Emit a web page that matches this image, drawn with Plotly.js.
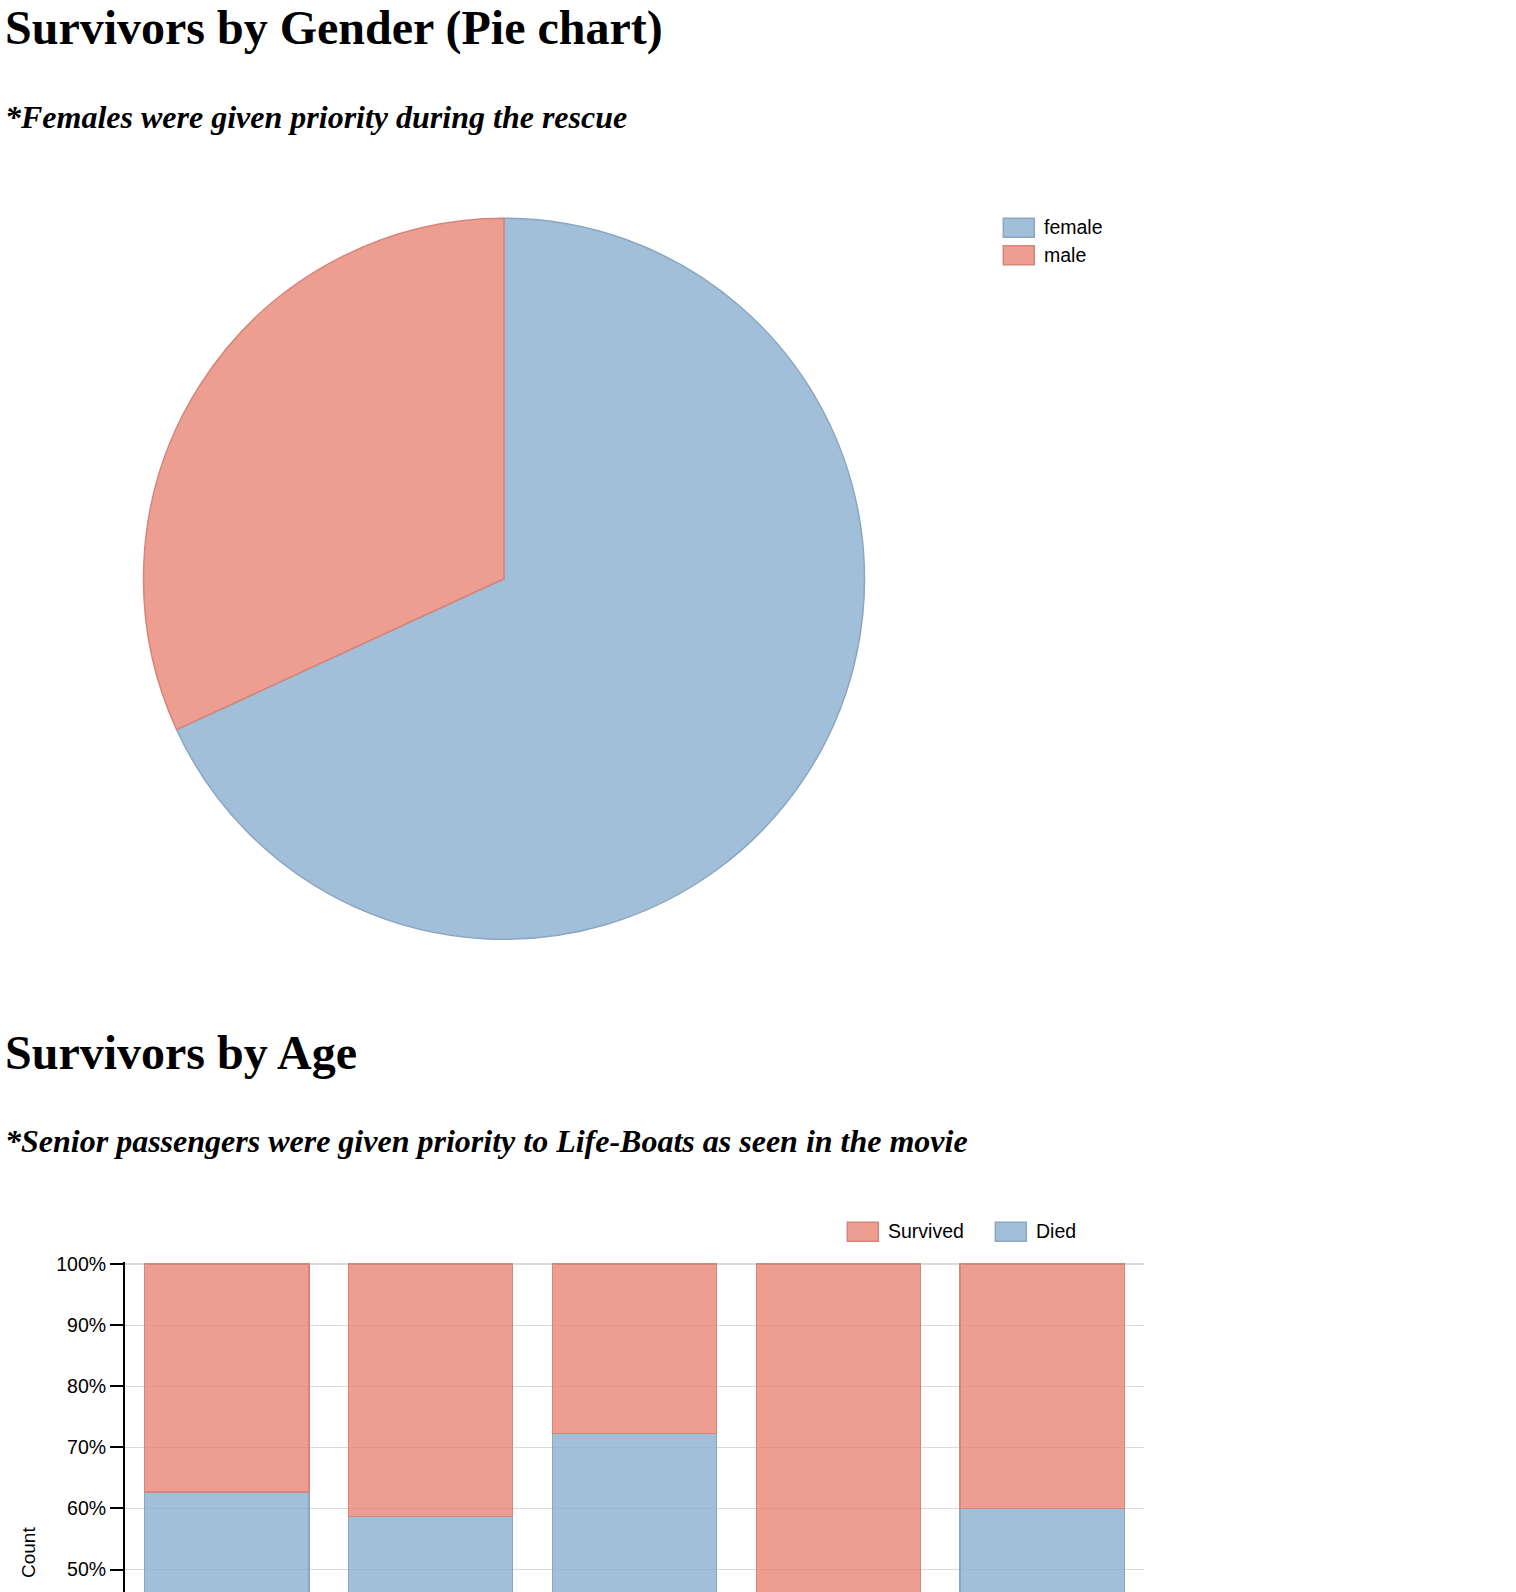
<!DOCTYPE html>
<html>
<head>
<meta charset="utf-8">
<script src="https://cdn.plot.ly/plotly-3.0.1.min.js"></script>
<style>
  html, body { margin: 0; padding: 0; background: #fff; overflow: hidden; }
  #chart { width: 1516px; height: 1592px; }
</style>
</head>
<body>
<div id="chart"></div>
<script>
// ---- data ----
const genderLabels = ['female', 'male'];
const genderSurvivors = [233, 109];

const ageGroups = ['Children', 'Teenagers', 'Adults', 'Seniors', 'Unknown'];
const survivedPct = [37.3, 41.3, 27.8, 100, 40.0];
const diedPct = [62.7, 58.7, 72.2, 0, 60.0];
const barSeries = ['Survived', 'Died'];

const headings = {
  title1: 'Survivors by Gender (Pie chart)',
  sub1: '*Females were given priority during the rescue',
  title2: 'Survivors by Age',
  sub2: '*Senior passengers were given priority to Life-Boats as seen in the movie'
};
const yAxisTitle = 'Count';

// ---- style ----
const W = 1516, H = 1592;
const BLUE = 'rgba(138,175,206,0.8)', BLUE_LINE = 'rgb(139,166,193)';
const RED = 'rgba(234,133,118,0.8)', RED_LINE = 'rgb(214,133,122)';
const px = x => x / W;
const py = y => 1 - y / H;
const serif = 'Liberation Serif, Times New Roman, serif';
const sans = 'Liberation Sans, Arial, Helvetica, sans-serif';

const annotations = [];
const shapes = [];

function heading(text, top, size, italic) {
  annotations.push({
    text: text, xref: 'paper', yref: 'paper', x: px(3), y: py(top),
    xanchor: 'left', yanchor: 'top', showarrow: false,
    font: { family: serif, size: size, weight: 'bold', style: italic ? 'italic' : 'normal', color: '#000' }
  });
}
heading(headings.title1, -1.5, 48, false);
heading(headings.sub1, 97, 32, true);
heading(headings.title2, 1023.5, 48, false);
heading(headings.sub2, 1121, 32, true);

function legend(names, fills, lines, x0, y0, dx, dy) {
  names.forEach((n, i) => {
    const x = x0 + i * dx, y = y0 + i * dy;
    shapes.push({
      type: 'rect', xref: 'paper', yref: 'paper',
      x0: px(x), x1: px(x + 31), y0: py(y + 19), y1: py(y),
      fillcolor: fills[i], line: { color: lines[i], width: 1.5 }
    });
    annotations.push({
      text: n, xref: 'paper', yref: 'paper', x: px(x + 39), y: py(y + 9),
      xanchor: 'left', yanchor: 'middle', showarrow: false,
      font: { family: sans, size: 19.5, color: '#000' }
    });
  });
}
legend(genderLabels, [BLUE, RED], [BLUE_LINE, RED_LINE], 1003.3, 218.3, 0, 27.4);
legend(barSeries, [RED, BLUE], [RED_LINE, BLUE_LINE], 847.3, 1222.3, 148, 0);

annotations.push({
  text: yAxisTitle, xref: 'paper', yref: 'paper', x: px(28), y: py(1553),
  xanchor: 'center', yanchor: 'middle', textangle: -90, showarrow: false,
  font: { family: sans, size: 19, color: '#000' }
});

// pie geometry
const pieCx = 504, pieCy = 578.8, pieR = 360.5;

const traces = [
  {
    type: 'pie', labels: genderLabels, values: genderSurvivors,
    sort: false, direction: 'clockwise', rotation: 0,
    textinfo: 'none', hoverinfo: 'label+value', showlegend: false,
    marker: { colors: [BLUE, RED], line: { color: [BLUE_LINE, RED_LINE], width: 1.5 } },
    domain: { x: [px(pieCx - pieR), px(pieCx + pieR)], y: [py(pieCy + pieR), py(pieCy - pieR)] }
  },
  {
    type: 'bar', name: 'Died', x: ageGroups, y: diedPct, xaxis: 'x', yaxis: 'y',
    marker: { color: BLUE, line: { color: BLUE_LINE, width: 1.2 } }, showlegend: false
  },
  {
    type: 'bar', name: 'Survived', x: ageGroups, y: survivedPct, xaxis: 'x', yaxis: 'y',
    marker: { color: RED, line: { color: RED_LINE, width: 1.2 } }, showlegend: false
  }
];

const pxPerPct = 6.11;
const grid100 = 1264;   // pixel row of the 100% gridline
const topPad = 0.25;    // range headroom above 100%
const plotTop = grid100 - topPad * pxPerPct;
const layout = {
  width: W, height: H, autosize: false,
  margin: { l: 0, r: 0, t: 0, b: 0, pad: 0 },
  paper_bgcolor: '#fff', plot_bgcolor: 'rgba(0,0,0,0)',
  font: { family: sans, size: 19, color: '#000' },
  showlegend: false,
  barmode: 'stack', bargap: 0.195,
  xaxis: { domain: [px(125), px(1144)], visible: false, fixedrange: true },
  yaxis: {
    domain: [0, py(plotTop)],
    range: [100 - (H - grid100) / pxPerPct, 100 + topPad],
    tick0: 0, dtick: 10, ticksuffix: '%',
    showgrid: true, gridcolor: '#dadada', gridwidth: 1.2,
    showline: true, linecolor: '#000', linewidth: 2,
    ticks: 'outside', ticklen: 13, tickwidth: 2, tickcolor: '#000',
    zeroline: false, fixedrange: true,
    tickfont: { family: sans, size: 19.5, color: '#000' }
  },
  annotations: annotations,
  shapes: shapes
};

Plotly.newPlot('chart', traces, layout, { displayModeBar: false, staticPlot: true });
</script>
</body>
</html>
